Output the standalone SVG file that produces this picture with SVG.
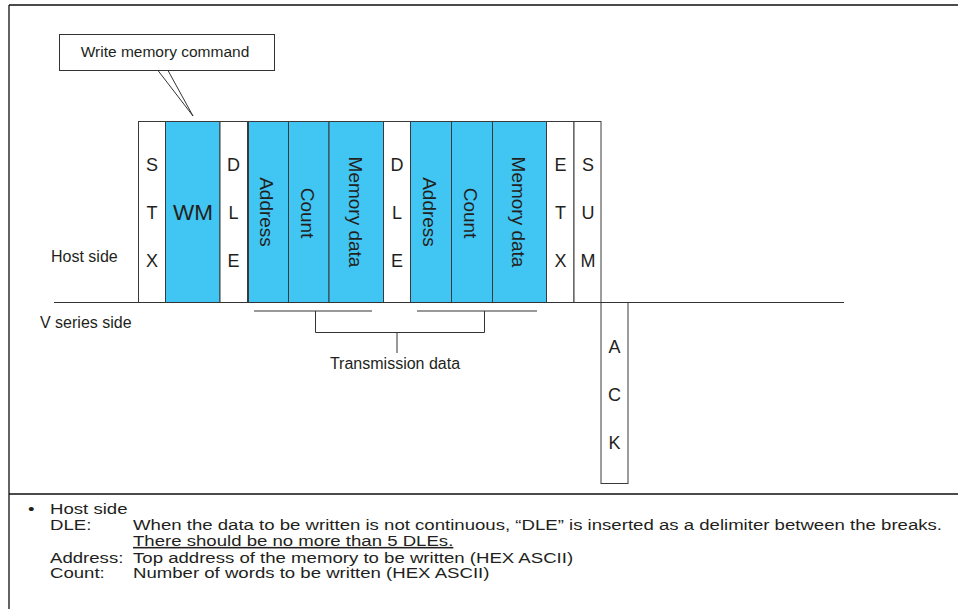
<svg xmlns="http://www.w3.org/2000/svg" width="958" height="609" viewBox="0 0 958 609">
<style>
text{font-family:"Liberation Sans",Arial,sans-serif;fill:#231f20}
.frame{stroke:#111;stroke-width:1.3;fill:none}
.col{stroke:#3a3a3a;stroke-width:1}
.c{fill:#41c5f2}
.w{fill:#fff}
.ln{stroke:#333;stroke-width:1;fill:none}
.lt{font-size:18px;text-anchor:middle;dominant-baseline:central}
.vt{font-size:19px;text-anchor:middle;dominant-baseline:central}
.lb{font-size:16px}
.bt{font-size:15.5px}
</style>
<g id="frame">
<path class="frame" d="M9,5 H958 M9,5 V609 M9,494 H958"/>
</g>
<g id="callout">
<rect x="59.5" y="34.5" width="215" height="36" fill="#fff" stroke="#333" stroke-width="1"/>
<path class="ln" d="M158,70.5 L193,116 L168,70.5"/>
<text x="165" y="57" font-size="15.5" text-anchor="middle">Write memory command</text>
</g>
<g id="host-frame">
<g id="STX"><rect class="col w" x="138.5" y="121.5" width="27" height="181"/>
<text class="lt" x="152" y="165">S</text><text class="lt" x="152" y="213">T</text><text class="lt" x="152" y="261">X</text></g>
<g id="WM"><rect class="col c" x="165.5" y="121.5" width="54.5" height="181"/>
<text x="193" y="212" font-size="22.5" text-anchor="middle" dominant-baseline="central">WM</text></g>
<g id="DLE1"><rect class="col w" x="220" y="121.5" width="27.5" height="181"/>
<text class="lt" x="233.5" y="165">D</text><text class="lt" x="233.5" y="213">L</text><text class="lt" x="233.5" y="261">E</text></g>
<g id="Address1"><rect class="col c" x="248.5" y="121.5" width="40" height="181"/>
<text class="vt" transform="translate(266,212) rotate(90)">Address</text></g>
<g id="Count1"><rect class="col c" x="288.5" y="121.5" width="40.5" height="181"/>
<text class="vt" transform="translate(307,213) rotate(90)">Count</text></g>
<g id="Memory1"><rect class="col c" x="329" y="121.5" width="54.5" height="181"/>
<text class="vt" transform="translate(355,212) rotate(90)">Memory data</text></g>
<g id="DLE2"><rect class="col w" x="383.5" y="121.5" width="27" height="181"/>
<text class="lt" x="397" y="165">D</text><text class="lt" x="397" y="213">L</text><text class="lt" x="397" y="261">E</text></g>
<g id="Address2"><rect class="col c" x="410.5" y="121.5" width="41" height="181"/>
<text class="vt" transform="translate(429,212) rotate(90)">Address</text></g>
<g id="Count2"><rect class="col c" x="451.5" y="121.5" width="41" height="181"/>
<text class="vt" transform="translate(470,213) rotate(90)">Count</text></g>
<g id="Memory2"><rect class="col c" x="492.5" y="121.5" width="54" height="181"/>
<text class="vt" transform="translate(518,212) rotate(90)">Memory data</text></g>
<g id="ETX"><rect class="col w" x="546.5" y="121.5" width="27.5" height="181"/>
<text class="lt" x="560.5" y="165">E</text><text class="lt" x="560.5" y="213">T</text><text class="lt" x="560.5" y="261">X</text></g>
<g id="SUM"><rect class="col w" x="574" y="121.5" width="27" height="181"/>
<text class="lt" x="588" y="165">S</text><text class="lt" x="588" y="213">U</text><text class="lt" x="588" y="261">M</text></g>
</g>
<g id="ACK"><rect class="col w" x="601" y="302.5" width="27" height="181"/>
<text class="lt" x="614.5" y="347">A</text><text class="lt" x="614.5" y="395">C</text><text class="lt" x="614.5" y="443">K</text></g>
<g id="connectors">
<path class="ln" d="M54,302.5 H844"/>
<path class="ln" d="M254,311 H372 M417,311 H537 M315.5,311 V332.5 H484.5 V311 M397,332.5 V353"/>
</g>
<g id="labels">
<text class="lb" x="51" y="262">Host side</text>
<text class="lb" x="40" y="328">V series side</text>
<text class="lb" x="395" y="369" text-anchor="middle">Transmission data</text>
</g>
<g id="notes">
<text class="bt" transform="translate(28,514) scale(1.2,1)">•</text>
<text class="bt" transform="translate(50,514) scale(1.2,1)">Host side</text>
<text class="bt" transform="translate(50,530) scale(1.2,1)">DLE:</text>
<text class="bt" transform="translate(133,530) scale(1.2,1)">When the data to be written is not continuous, “DLE” is inserted as a delimiter between the breaks.</text>
<text class="bt" transform="translate(133,546) scale(1.2,1)" text-decoration="underline">There should be no more than 5 DLEs.</text>
<text class="bt" transform="translate(50,562.5) scale(1.2,1)">Address:</text>
<text class="bt" transform="translate(133,562.5) scale(1.2,1)">Top address of the memory to be written (HEX ASCII)</text>
<text class="bt" transform="translate(50,578) scale(1.2,1)">Count:</text>
<text class="bt" transform="translate(133,578) scale(1.2,1)">Number of words to be written (HEX ASCII)</text>
</g>
</svg>
